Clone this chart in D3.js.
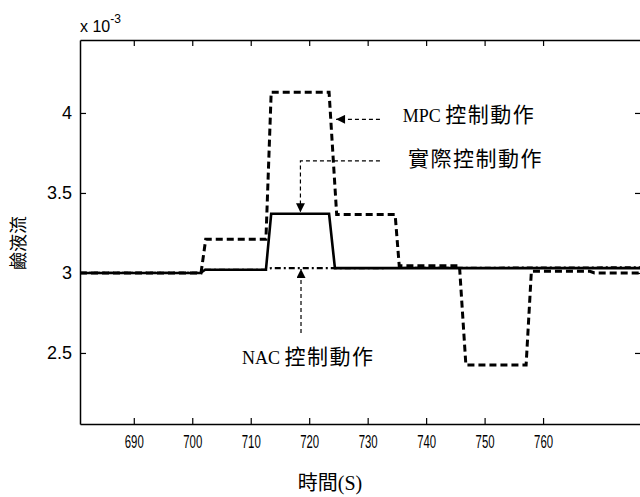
<!DOCTYPE html>
<html lang="zh-Hant">
<head>
<meta charset="UTF-8">
<title>鹼液流 控制動作</title>
<style>
  body { margin: 0; background: #fff; }
  svg { display: block; }
  .tick text { font-family: "Liberation Sans", Arial, sans-serif; fill: #000; }
  .lbl { font-family: "Liberation Serif", "Noto Sans CJK TC", serif; fill: #000; }
</style>
</head>
<body>
<svg id="chart" width="640" height="497"></svg>
<script src="https://cdnjs.cloudflare.com/ajax/libs/d3/7.8.5/d3.min.js"></script>
<script>
// series (time in s, value in 1e-3 units)
const mpcT = [680.8, 701.5, 702.3, 712.6, 713.5, 723.4, 724.7, 734.7, 735.4, 745.7, 746.8, 757.1, 758.0, 768.0, 768.8, 776.75];
const mpcV = [3.00, 3.00, 3.21, 3.21, 4.13, 4.13, 3.365, 3.365, 3.045, 3.045, 2.425, 2.425, 3.01, 3.01, 3.00, 3.00];
const realT = [680.8, 701.4, 702.2, 712.6, 713.5, 723.4, 724.4, 776.75];
const realV = [3.00, 3.00, 3.02, 3.02, 3.37, 3.37, 3.03, 3.03];
const nacT = [680.8, 701.4, 702.2, 712.6, 713.5, 723.4, 724.4, 776.75];
const nacV = [3.00, 3.00, 3.02, 3.02, 3.03, 3.03, 3.03, 3.035];

const xTicks = [690, 700, 710, 720, 730, 740, 750, 760];
const yTicks = [2.5, 3, 3.5, 4];

const svg = d3.select("#chart");
const pl = 80, pr = 641, pt = 40, pb = 424;

const x = d3.scaleLinear().domain([680.8, 776.75]).range([pl, pr]);
const y = d3.scaleLinear().domain([2.056, 4.456]).range([pb, pt]);

const defs = svg.append("defs");
defs.append("clipPath").attr("id", "clip")
  .append("rect").attr("x", pl).attr("y", pt)
  .attr("width", pr - pl).attr("height", pb - pt);
defs.append("marker").attr("id", "head")
  .attr("viewBox", "0 0 10 10").attr("refX", 10).attr("refY", 5)
  .attr("markerWidth", 12).attr("markerHeight", 9)
  .attr("markerUnits", "userSpaceOnUse").attr("orient", "auto")
  .append("path").attr("d", "M0,0 L10,5 L0,10 Z").attr("fill", "#000");

// axes: ticks point inward on all four sides
svg.append("g").attr("transform", `translate(0,${pb})`)
  .call(d3.axisBottom(x).tickValues(xTicks).tickSizeInner(-6).tickSizeOuter(0).tickPadding(11))
  .call(g => g.selectAll(".tick text").attr("font-size", 18)
    .attr("textLength", 19).attr("lengthAdjust", "spacingAndGlyphs"));
svg.append("g").attr("transform", `translate(0,${pt})`)
  .call(d3.axisTop(x).tickValues(xTicks).tickSizeInner(-6).tickSizeOuter(0).tickFormat(""));
svg.append("g").attr("transform", `translate(${pl},0)`)
  .call(d3.axisLeft(y).tickValues(yTicks).tickSizeInner(-6).tickSizeOuter(0).tickPadding(8)
    .tickFormat(d3.format("")))
  .call(g => g.selectAll(".tick text").attr("font-size", 18));
svg.append("g").attr("transform", `translate(${pr},0)`)
  .call(d3.axisRight(y).tickValues(yTicks).tickSizeInner(-6).tickSizeOuter(0).tickFormat(""));

svg.selectAll(".domain").attr("stroke", "#000").attr("stroke-width", 1.5);
svg.selectAll(".tick line").attr("stroke", "#000").attr("stroke-width", 1.2);

// exponent label
const ex = svg.append("text").attr("class", "tick").attr("x", pl).attr("y", 32)
  .attr("font-family", "Liberation Sans, Arial, sans-serif").attr("font-size", 16);
ex.append("tspan").text("x 10");
ex.append("tspan").attr("dy", -9).attr("font-size", 12).text("-3");

// series
const line = d3.line().x(d => x(d[0])).y(d => y(d[1]));
const plot = svg.append("g").attr("clip-path", "url(#clip)");

plot.append("path").datum(d3.zip(nacT, nacV)).attr("d", line)
  .attr("fill", "none").attr("stroke", "#000").attr("stroke-width", 2.2)
  .attr("stroke-dasharray", "6,3,2,3");
plot.append("path").datum(d3.zip(realT, realV)).attr("d", line)
  .attr("fill", "none").attr("stroke", "#000").attr("stroke-width", 2.6);
plot.append("path").datum(d3.zip(mpcT, mpcV)).attr("d", line)
  .attr("fill", "none").attr("stroke", "#000").attr("stroke-width", 3)
  .attr("stroke-dasharray", "7,4");

// annotations (data coordinates)
const arrows = [
  [[732.1, 3.96], [724.6, 3.96]],
  [[732.1, 3.70], [718.5, 3.70], [718.5, 3.38]],
  [[718.6, 2.625], [718.6, 3.025]]
];
arrows.forEach(pts => {
  svg.append("path").datum(pts).attr("d", line)
    .attr("fill", "none").attr("stroke", "#000").attr("stroke-width", 1.2)
    .attr("stroke-dasharray", "4,3").attr("marker-end", "url(#head)");
});

const notes = [
  { t: 736.0, v: 3.977, latin: "MPC ", cjk: "控制動作" },
  { t: 736.9, v: 3.706, latin: "", cjk: "實際控制動作" },
  { t: 708.5, v: 2.47, latin: "NAC ", cjk: "控制動作" }
];
const nt = svg.selectAll(".note").data(notes).enter().append("text")
  .attr("class", "lbl note")
  .attr("x", d => x(d.t)).attr("y", d => y(d.v)).attr("dy", "0.36em");
nt.append("tspan").attr("font-size", 18).text(d => d.latin);
nt.append("tspan").attr("font-size", 21).attr("letter-spacing", 1.5).text(d => d.cjk);

// axis titles
svg.append("text").attr("class", "lbl").attr("x", 330).attr("y", 490)
  .attr("text-anchor", "middle").attr("font-size", 20).text("時間(S)");
svg.append("text").attr("class", "lbl")
  .attr("transform", "translate(25,243) rotate(-90)")
  .attr("text-anchor", "middle").attr("font-size", 18).text("鹼液流");
</script>
</body>
</html>
